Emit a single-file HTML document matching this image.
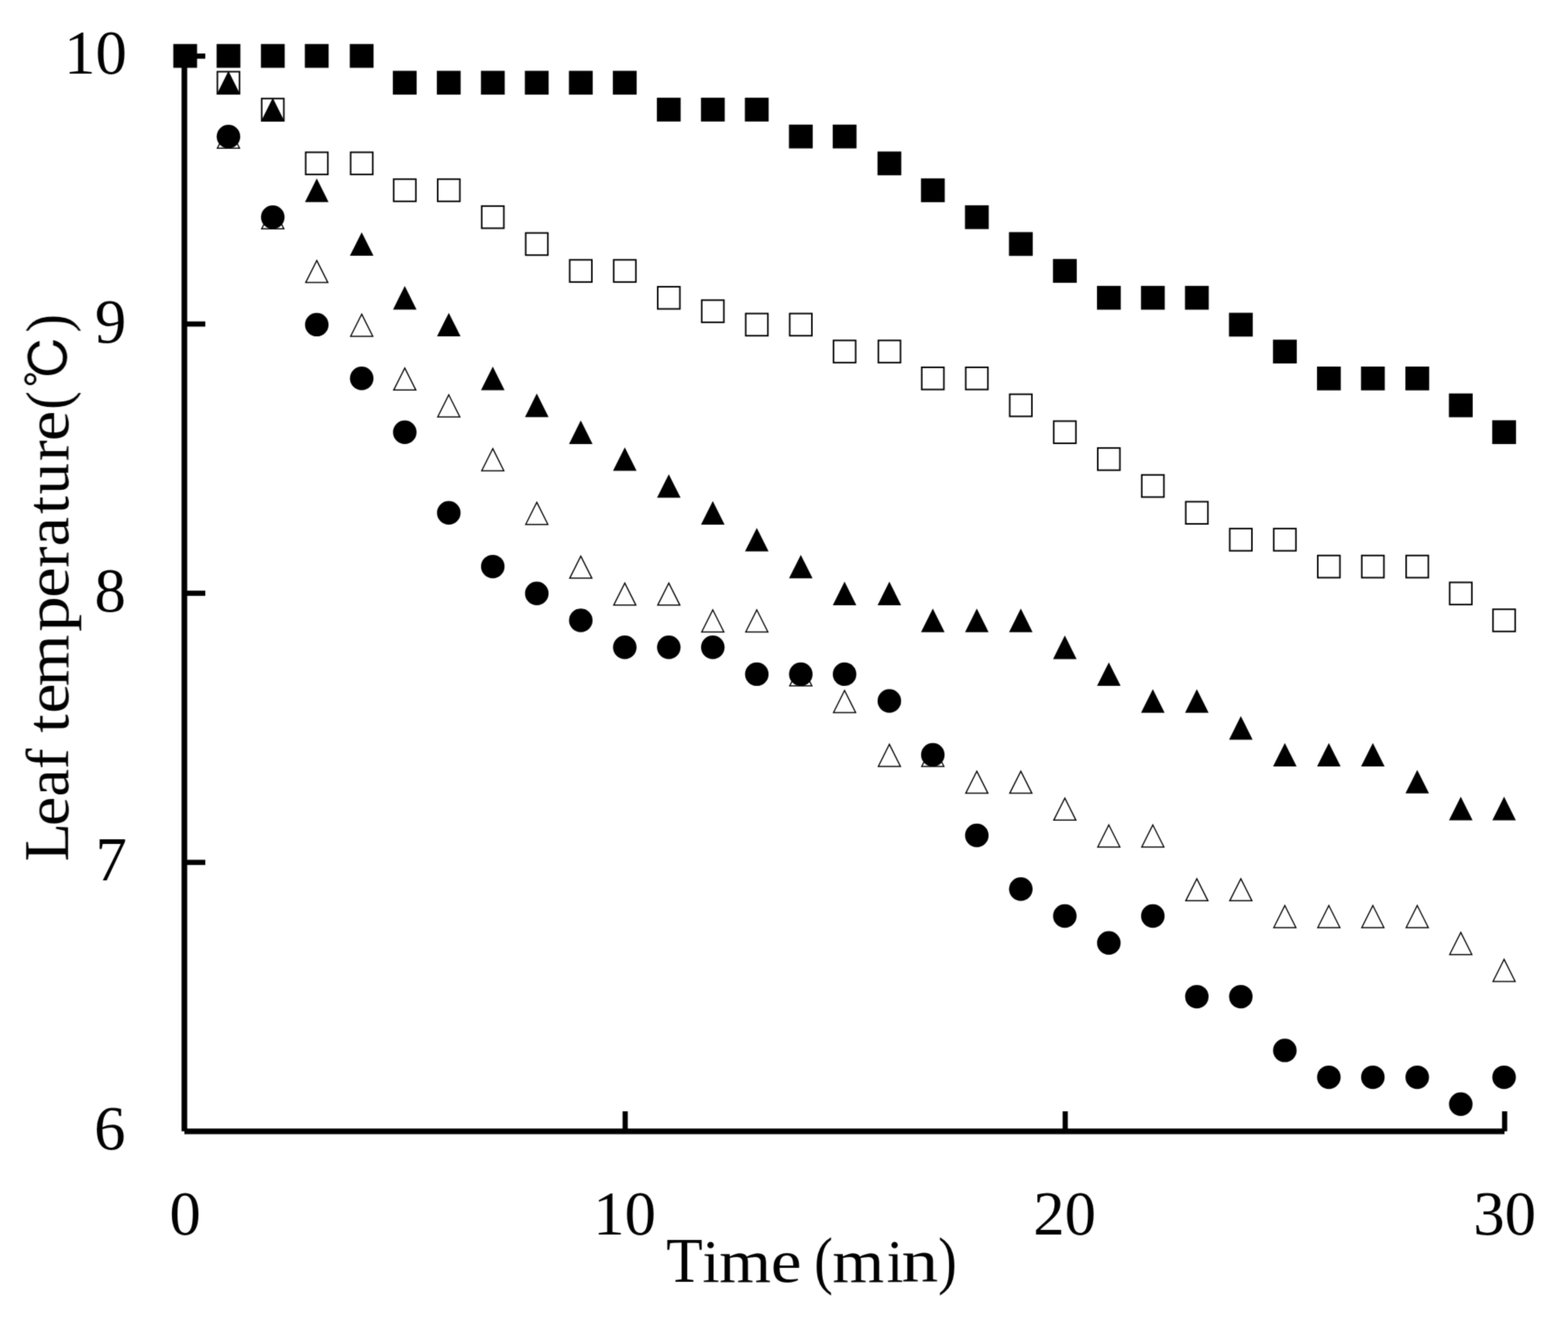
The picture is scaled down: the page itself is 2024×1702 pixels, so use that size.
<!DOCTYPE html>
<html lang="en">
<head>
<meta charset="utf-8">
<style>
html,body{margin:0;padding:0;background:#fff;}
body{width:2024px;height:1702px;overflow:hidden;}
svg{display:block;}
text{font-family:"Liberation Serif","Noto Serif CJK SC",serif;font-size:81px;fill:#000;}
.yl text{text-anchor:end;}
.dc{font-family:"IPAGothic","Noto Serif CJK SC",serif;font-size:69.3px;}
.pr{font-size:78px;}
.lc{font-size:77.5px;}
.uc{font-size:81.6px;}
.xl text{text-anchor:middle;}
.ax path{stroke:#000;stroke-width:7.3;fill:none;}
.tk path{stroke:#000;stroke-width:6.7;fill:none;}
.fsq rect,.ftr path,.cir circle{fill:#000;}
.osq rect{fill:#fff;stroke:#000;stroke-width:2;}
.otr path{fill:#fff;stroke:#000;stroke-width:1.5;stroke-linejoin:miter;}
</style>
</head>
<body>
<svg width="2024" height="1702" viewBox="0 0 2024 1702">
<defs><filter id="soft" filterUnits="userSpaceOnUse" x="0" y="0" width="2024" height="1702" color-interpolation-filters="sRGB"><feConvolveMatrix order="3" kernelMatrix="1 4 1 4 16 4 1 4 1" divisor="36" edgeMode="duplicate" preserveAlpha="false"/></filter></defs>
<rect width="2024" height="1702" fill="#fff"/>
<g filter="url(#soft)">
<g class="ax">
<path d="M238 69.4V1459.8"/>
<path d="M238 1459.8H1942"/>
</g>
<g class="tk">
<path d="M238 72.4H265"/>
<path d="M238 418.1H265"/>
<path d="M238 765.5H265"/>
<path d="M238 1112.8H265"/>
<path d="M807 1434V1459.8"/>
<path d="M1375 1434V1459.8"/>
<path d="M1942.2 1434V1459.8"/>
</g>
<g class="otr">
<path d="M294.9 162.7L309.2 191.2L280.6 191.2Z"/>
<path d="M352.1 266.7L366.4 295.2L337.8 295.2Z"/>
<path d="M408.9 336.1L423.2 364.6L394.6 364.6Z"/>
<path d="M466.9 405.4L481.2 433.9L452.6 433.9Z"/>
<path d="M522.5 474.8L536.8 503.3L508.2 503.3Z"/>
<path d="M579.3 509.5L593.6 538L565 538Z"/>
<path d="M636.1 578.9L650.4 607.4L621.8 607.4Z"/>
<path d="M692.9 648.2L707.2 676.7L678.6 676.7Z"/>
<path d="M749.7 717.6L764 746.1L735.4 746.1Z"/>
<path d="M806.5 752.3L820.8 780.8L792.2 780.8Z"/>
<path d="M863.3 752.3L877.6 780.8L849 780.8Z"/>
<path d="M920.1 787L934.4 815.5L905.8 815.5Z"/>
<path d="M976.9 787L991.2 815.5L962.6 815.5Z"/>
<path d="M1033.7 856.4L1048 884.9L1019.4 884.9Z"/>
<path d="M1090.2 891L1104.5 919.5L1075.9 919.5Z"/>
<path d="M1148 960.4L1162.3 988.9L1133.8 988.9Z"/>
<path d="M1204.1 960.4L1218.4 988.9L1189.8 988.9Z"/>
<path d="M1260.9 995.1L1275.2 1023.6L1246.6 1023.6Z"/>
<path d="M1317.7 995.1L1332 1023.6L1303.4 1023.6Z"/>
<path d="M1374.5 1029.8L1388.8 1058.3L1360.2 1058.3Z"/>
<path d="M1431.3 1064.5L1445.6 1093L1417 1093Z"/>
<path d="M1488.1 1064.5L1502.4 1093L1473.8 1093Z"/>
<path d="M1544.9 1133.8L1559.2 1162.3L1530.6 1162.3Z"/>
<path d="M1601.7 1133.8L1616 1162.3L1587.4 1162.3Z"/>
<path d="M1658.5 1168.5L1672.8 1197L1644.2 1197Z"/>
<path d="M1715.3 1168.5L1729.6 1197L1701 1197Z"/>
<path d="M1772.1 1168.5L1786.4 1197L1757.8 1197Z"/>
<path d="M1829.4 1168.5L1843.7 1197L1815.1 1197Z"/>
<path d="M1885.6 1203.2L1899.9 1231.7L1871.3 1231.7Z"/>
<path d="M1941.5 1237.9L1955.8 1266.4L1927.2 1266.4Z"/>
</g>
<g class="cir">
<circle cx="294.9" cy="176.2" r="15.2"/>
<circle cx="352.1" cy="280.2" r="15.2"/>
<circle cx="408.9" cy="418.9" r="15.2"/>
<circle cx="466.9" cy="488.3" r="15.2"/>
<circle cx="522.5" cy="557.7" r="15.2"/>
<circle cx="579.3" cy="661.7" r="15.2"/>
<circle cx="636.1" cy="731.1" r="15.2"/>
<circle cx="692.9" cy="765.8" r="15.2"/>
<circle cx="749.7" cy="800.5" r="15.2"/>
<circle cx="806.5" cy="835.2" r="15.2"/>
<circle cx="863.3" cy="835.2" r="15.2"/>
<circle cx="920.1" cy="835.2" r="15.2"/>
<circle cx="976.9" cy="869.9" r="15.2"/>
<circle cx="1033.7" cy="869.9" r="15.2"/>
<circle cx="1090.2" cy="869.9" r="15.2"/>
<circle cx="1148" cy="904.5" r="15.2"/>
<circle cx="1204.1" cy="973.9" r="15.2"/>
<circle cx="1260.9" cy="1078" r="15.2"/>
<circle cx="1317.7" cy="1147.3" r="15.2"/>
<circle cx="1374.5" cy="1182" r="15.2"/>
<circle cx="1431.3" cy="1216.7" r="15.2"/>
<circle cx="1488.1" cy="1182" r="15.2"/>
<circle cx="1544.9" cy="1286.1" r="15.2"/>
<circle cx="1601.7" cy="1286.1" r="15.2"/>
<circle cx="1658.5" cy="1355.4" r="15.2"/>
<circle cx="1715.3" cy="1390.1" r="15.2"/>
<circle cx="1772.1" cy="1390.1" r="15.2"/>
<circle cx="1829.4" cy="1390.1" r="15.2"/>
<circle cx="1885.6" cy="1424.8" r="15.2"/>
<circle cx="1941.5" cy="1390.1" r="15.2"/>
</g>
<g class="osq">
<rect x="280.6" y="92.5" width="28.6" height="28.6"/>
<rect x="337.8" y="127.2" width="28.6" height="28.6"/>
<rect x="394.6" y="196.5" width="28.6" height="28.6"/>
<rect x="452.6" y="196.5" width="28.6" height="28.6"/>
<rect x="508.2" y="231.2" width="28.6" height="28.6"/>
<rect x="565" y="231.2" width="28.6" height="28.6"/>
<rect x="621.8" y="265.9" width="28.6" height="28.6"/>
<rect x="678.6" y="300.6" width="28.6" height="28.6"/>
<rect x="735.4" y="335.3" width="28.6" height="28.6"/>
<rect x="792.2" y="335.3" width="28.6" height="28.6"/>
<rect x="849" y="370" width="28.6" height="28.6"/>
<rect x="905.8" y="387.3" width="28.6" height="28.6"/>
<rect x="962.6" y="404.6" width="28.6" height="28.6"/>
<rect x="1019.4" y="404.6" width="28.6" height="28.6"/>
<rect x="1075.9" y="439.3" width="28.6" height="28.6"/>
<rect x="1133.8" y="439.3" width="28.6" height="28.6"/>
<rect x="1189.8" y="474" width="28.6" height="28.6"/>
<rect x="1246.6" y="474" width="28.6" height="28.6"/>
<rect x="1303.4" y="508.7" width="28.6" height="28.6"/>
<rect x="1360.2" y="543.4" width="28.6" height="28.6"/>
<rect x="1417" y="578.1" width="28.6" height="28.6"/>
<rect x="1473.8" y="612.8" width="28.6" height="28.6"/>
<rect x="1530.6" y="647.4" width="28.6" height="28.6"/>
<rect x="1587.4" y="682.1" width="28.6" height="28.6"/>
<rect x="1644.2" y="682.1" width="28.6" height="28.6"/>
<rect x="1701" y="716.8" width="28.6" height="28.6"/>
<rect x="1757.8" y="716.8" width="28.6" height="28.6"/>
<rect x="1815.1" y="716.8" width="28.6" height="28.6"/>
<rect x="1871.3" y="751.5" width="28.6" height="28.6"/>
<rect x="1927.2" y="786.2" width="28.6" height="28.6"/>
</g>
<g class="ftr">
<path d="M294.9 91.6L310.1 122L279.7 122Z"/>
<path d="M352.1 126.3L367.3 156.7L336.9 156.7Z"/>
<path d="M408.9 230.3L424.1 260.7L393.7 260.7Z"/>
<path d="M466.9 299.7L482.1 330.1L451.7 330.1Z"/>
<path d="M522.5 369.1L537.7 399.5L507.3 399.5Z"/>
<path d="M579.3 403.8L594.5 434.1L564.1 434.1Z"/>
<path d="M636.1 473.1L651.3 503.5L620.9 503.5Z"/>
<path d="M692.9 507.8L708.1 538.2L677.7 538.2Z"/>
<path d="M749.7 542.5L764.9 572.9L734.5 572.9Z"/>
<path d="M806.5 577.2L821.7 607.6L791.3 607.6Z"/>
<path d="M863.3 611.9L878.5 642.3L848.1 642.3Z"/>
<path d="M920.1 646.5L935.3 676.9L904.9 676.9Z"/>
<path d="M976.9 681.2L992.1 711.6L961.7 711.6Z"/>
<path d="M1033.7 715.9L1048.9 746.3L1018.5 746.3Z"/>
<path d="M1090.2 750.6L1105.4 781L1075 781Z"/>
<path d="M1148 750.6L1163.2 781L1132.8 781Z"/>
<path d="M1204.1 785.3L1219.3 815.7L1188.9 815.7Z"/>
<path d="M1260.9 785.3L1276.1 815.7L1245.7 815.7Z"/>
<path d="M1317.7 785.3L1332.9 815.7L1302.5 815.7Z"/>
<path d="M1374.5 820L1389.7 850.4L1359.3 850.4Z"/>
<path d="M1431.3 854.7L1446.5 885.1L1416.1 885.1Z"/>
<path d="M1488.1 889.3L1503.3 919.7L1472.9 919.7Z"/>
<path d="M1544.9 889.3L1560.1 919.7L1529.7 919.7Z"/>
<path d="M1601.7 924L1616.9 954.4L1586.5 954.4Z"/>
<path d="M1658.5 958.7L1673.7 989.1L1643.3 989.1Z"/>
<path d="M1715.3 958.7L1730.5 989.1L1700.1 989.1Z"/>
<path d="M1772.1 958.7L1787.3 989.1L1756.9 989.1Z"/>
<path d="M1829.4 993.4L1844.6 1023.8L1814.2 1023.8Z"/>
<path d="M1885.6 1028.1L1900.8 1058.5L1870.4 1058.5Z"/>
<path d="M1941.5 1028.1L1956.7 1058.5L1926.3 1058.5Z"/>
</g>
<g class="fsq">
<rect x="223.7" y="56.8" width="30.7" height="30.7"/>
<rect x="279.6" y="56.8" width="30.7" height="30.7"/>
<rect x="336.8" y="56.8" width="30.7" height="30.7"/>
<rect x="393.5" y="56.8" width="30.7" height="30.7"/>
<rect x="451.5" y="56.8" width="30.7" height="30.7"/>
<rect x="507.1" y="91.4" width="30.7" height="30.7"/>
<rect x="563.9" y="91.4" width="30.7" height="30.7"/>
<rect x="620.8" y="91.4" width="30.7" height="30.7"/>
<rect x="677.5" y="91.4" width="30.7" height="30.7"/>
<rect x="734.4" y="91.4" width="30.7" height="30.7"/>
<rect x="791.1" y="91.4" width="30.7" height="30.7"/>
<rect x="847.9" y="126.1" width="30.7" height="30.7"/>
<rect x="904.8" y="126.1" width="30.7" height="30.7"/>
<rect x="961.5" y="126.1" width="30.7" height="30.7"/>
<rect x="1018.4" y="160.8" width="30.7" height="30.7"/>
<rect x="1074.9" y="160.8" width="30.7" height="30.7"/>
<rect x="1132.7" y="195.5" width="30.7" height="30.7"/>
<rect x="1188.8" y="230.2" width="30.7" height="30.7"/>
<rect x="1245.6" y="264.9" width="30.7" height="30.7"/>
<rect x="1302.4" y="299.5" width="30.7" height="30.7"/>
<rect x="1359.2" y="334.2" width="30.7" height="30.7"/>
<rect x="1416" y="368.9" width="30.7" height="30.7"/>
<rect x="1472.8" y="368.9" width="30.7" height="30.7"/>
<rect x="1529.6" y="368.9" width="30.7" height="30.7"/>
<rect x="1586.4" y="403.6" width="30.7" height="30.7"/>
<rect x="1643.2" y="438.3" width="30.7" height="30.7"/>
<rect x="1700" y="473" width="30.7" height="30.7"/>
<rect x="1756.8" y="473" width="30.7" height="30.7"/>
<rect x="1814.1" y="473" width="30.7" height="30.7"/>
<rect x="1870.3" y="507.7" width="30.7" height="30.7"/>
<rect x="1926.2" y="542.3" width="30.7" height="30.7"/>
</g>
<g class="yl">
<text x="163.8" y="95.4">10</text>
<text x="163.1" y="442.2">9</text>
<text x="162.5" y="789.1">8</text>
<text x="163.7" y="1136">7</text>
<text x="162" y="1482.8">6</text>
</g>
<g class="xl">
<text x="238.9" y="1593.2">0</text>
<text x="806.3" y="1593.2">10</text>
<text x="1374.3" y="1593.2">20</text>
<text x="1942.3" y="1593.2">30</text>
</g>
<text class="xt" y="1654"><tspan class="uc" x="860.1" textLength="47" lengthAdjust="spacingAndGlyphs">T</tspan><tspan class="lc" x="906.7" textLength="22.1" lengthAdjust="spacingAndGlyphs">i</tspan><tspan class="lc" x="928.6" textLength="66.7" lengthAdjust="spacingAndGlyphs">m</tspan><tspan class="lc" x="995.1" textLength="39.6" lengthAdjust="spacingAndGlyphs">e</tspan> <tspan class="uc" x="1050.9" textLength="24" lengthAdjust="spacingAndGlyphs">(</tspan><tspan class="lc" x="1074.5" textLength="66.8" lengthAdjust="spacingAndGlyphs">m</tspan><tspan class="lc" x="1144.4" textLength="21.6" lengthAdjust="spacingAndGlyphs">i</tspan><tspan class="lc" x="1163.8" textLength="47.3" lengthAdjust="spacingAndGlyphs">n</tspan><tspan class="uc" x="1211.1" textLength="24.1" lengthAdjust="spacingAndGlyphs">)</tspan></text>
<g transform="translate(87.8 1110) rotate(-90)">
<text class="yt" y="0"><tspan class="uc" x="-1.5" textLength="49.5" lengthAdjust="spacingAndGlyphs">L</tspan><tspan class="lc" x="43.9" textLength="38" lengthAdjust="spacingAndGlyphs">e</tspan><tspan class="lc" x="82" textLength="35.6" lengthAdjust="spacingAndGlyphs">a</tspan><tspan class="lc" x="117.6" textLength="26.6" lengthAdjust="spacingAndGlyphs">f</tspan> <tspan class="lc" x="164.5" textLength="23.7" lengthAdjust="spacingAndGlyphs">t</tspan><tspan class="lc" x="189.2" textLength="38.9" lengthAdjust="spacingAndGlyphs">e</tspan><tspan class="lc" x="224.6" textLength="66.6" lengthAdjust="spacingAndGlyphs">m</tspan><tspan class="lc" x="294.7" textLength="46" lengthAdjust="spacingAndGlyphs">p</tspan><tspan class="lc" x="338.6" textLength="39.6" lengthAdjust="spacingAndGlyphs">e</tspan><tspan class="lc" x="377.4" textLength="27.3" lengthAdjust="spacingAndGlyphs">r</tspan><tspan class="lc" x="405.1" textLength="38" lengthAdjust="spacingAndGlyphs">a</tspan><tspan class="lc" x="446.8" textLength="23.1" lengthAdjust="spacingAndGlyphs">t</tspan><tspan class="lc" x="471.9" textLength="40.4" lengthAdjust="spacingAndGlyphs">u</tspan><tspan class="lc" x="515.1" textLength="27" lengthAdjust="spacingAndGlyphs">r</tspan><tspan class="lc" x="540.7" textLength="39.3" lengthAdjust="spacingAndGlyphs">e</tspan><tspan class="pr" x="581.4" textLength="23.7" lengthAdjust="spacingAndGlyphs">(</tspan><tspan class="dc" x="609.2" textLength="69.3" lengthAdjust="spacingAndGlyphs" dy="1.2">℃</tspan><tspan class="pr" x="681" textLength="23.6" lengthAdjust="spacingAndGlyphs" dy="-1.2">)</tspan></text>
</g>
</g>
</svg>
</body>
</html>
